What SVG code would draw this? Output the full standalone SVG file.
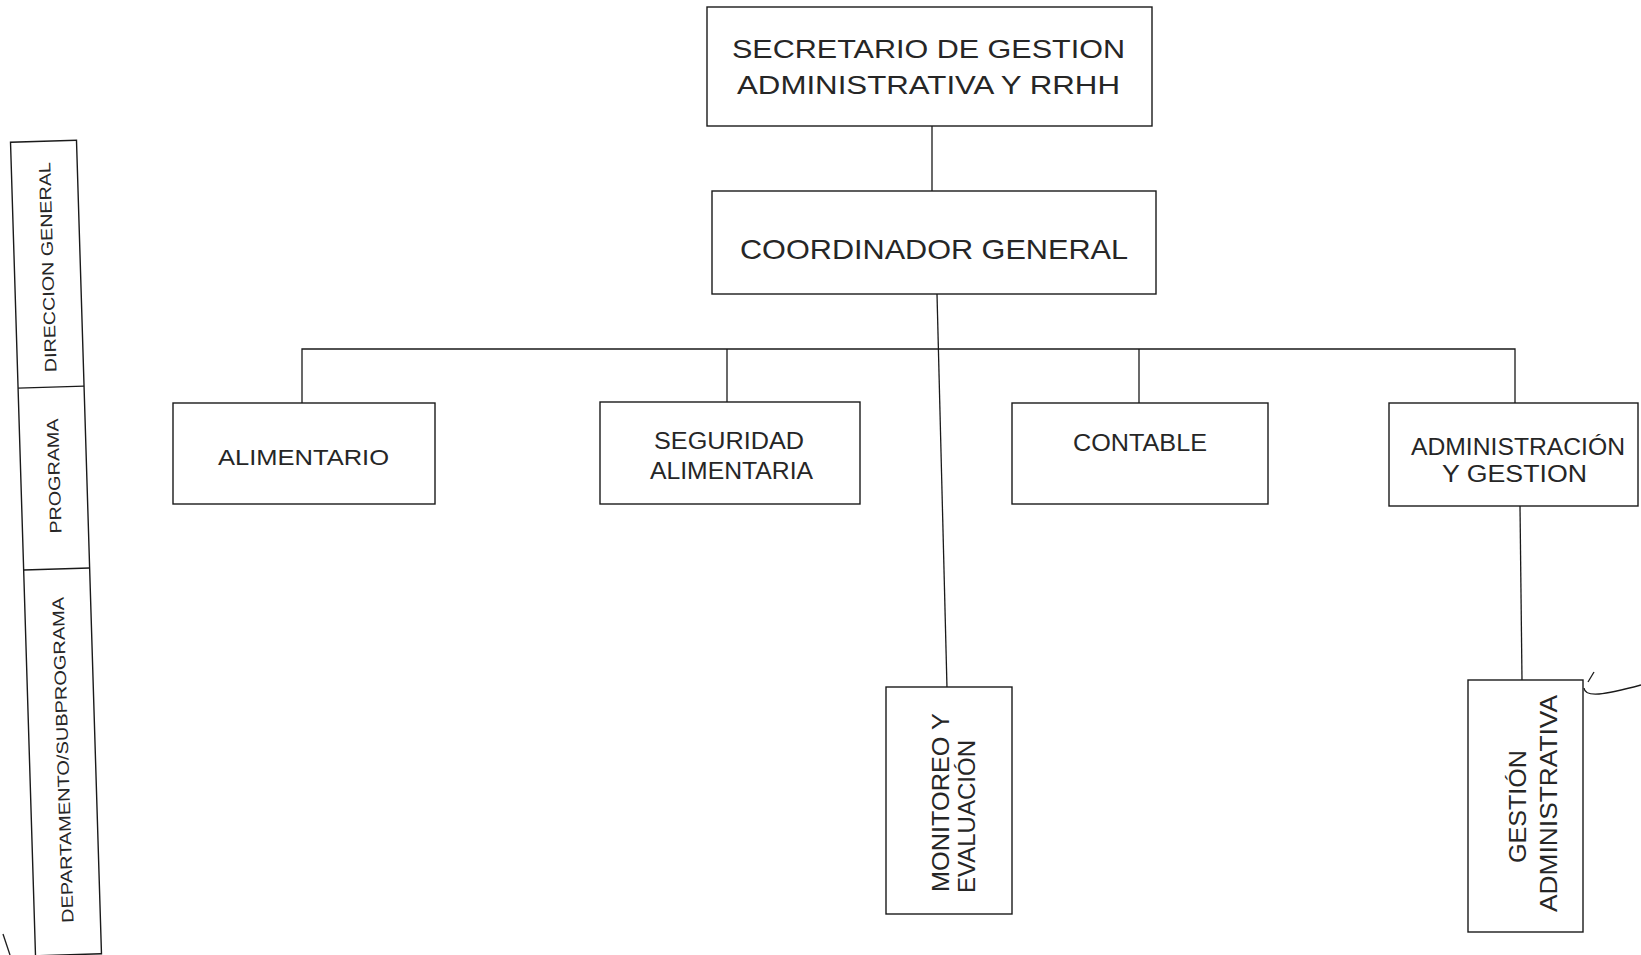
<svg xmlns="http://www.w3.org/2000/svg" width="1641" height="955" viewBox="0 0 1641 955">
<style>
.box{fill:#fff;stroke:#1a1a1a;stroke-width:1.4}
.ln{fill:none;stroke:#1a1a1a;stroke-width:1.3}
text{font-family:"Liberation Sans",Arial,sans-serif;fill:#262626}
</style>
<rect width="1641" height="955" fill="#fff"/>
<g id="connectors">
<line class="ln" x1="932" y1="126" x2="932" y2="191"/>
<line class="ln" x1="937" y1="294" x2="947" y2="688"/>
<polyline class="ln" points="302,403 302,349 1515,349 1515,403"/>
<line class="ln" x1="727" y1="349" x2="727" y2="402"/>
<line class="ln" x1="1139" y1="349" x2="1139" y2="403"/>
<line class="ln" x1="1520" y1="506" x2="1522" y2="680"/>
</g>
<g id="levels" transform="rotate(-1.76 56 548)">
<rect class="box" x="23" y="141" width="66" height="814"/>
<line class="ln" x1="23" y1="387" x2="89" y2="387"/>
<line class="ln" x1="23" y1="569" x2="89" y2="569"/>
<text transform="translate(62 267) rotate(-90)" font-size="16.5" text-anchor="middle" textLength="210" lengthAdjust="spacingAndGlyphs">DIRECCION GENERAL</text>
<text transform="translate(62 476) rotate(-90)" font-size="16.5" text-anchor="middle" textLength="115" lengthAdjust="spacingAndGlyphs">PROGRAMA</text>
<text transform="translate(62 760) rotate(-90)" font-size="16.5" text-anchor="middle" textLength="326" lengthAdjust="spacingAndGlyphs">DEPARTAMENTO/SUBPROGRAMA</text>
</g>
<g id="secretario">
<rect class="box" x="707" y="7" width="445" height="119"/>
<text x="732" y="58" font-size="25.5" textLength="393" lengthAdjust="spacingAndGlyphs">SECRETARIO DE GESTION</text>
<text x="737" y="94" font-size="25.5" textLength="383" lengthAdjust="spacingAndGlyphs">ADMINISTRATIVA Y RRHH</text>
</g>
<g id="coordinador">
<rect class="box" x="712" y="191" width="444" height="103"/>
<text x="740" y="259" font-size="28" textLength="388" lengthAdjust="spacingAndGlyphs">COORDINADOR GENERAL</text>
</g>
<g id="alimentario">
<rect class="box" x="173" y="403" width="262" height="101"/>
<text x="218" y="465" font-size="22" textLength="171" lengthAdjust="spacingAndGlyphs">ALIMENTARIO</text>
</g>
<g id="seguridad">
<rect class="box" x="600" y="402" width="260" height="102"/>
<text x="654" y="449" font-size="23" textLength="150" lengthAdjust="spacingAndGlyphs">SEGURIDAD</text>
<text x="650" y="479" font-size="23" textLength="163" lengthAdjust="spacingAndGlyphs">ALIMENTARIA</text>
</g>
<g id="contable">
<rect class="box" x="1012" y="403" width="256" height="101"/>
<text x="1073" y="451" font-size="24" textLength="134" lengthAdjust="spacingAndGlyphs">CONTABLE</text>
</g>
<g id="administracion">
<rect class="box" x="1389" y="403" width="249" height="103"/>
<text x="1411" y="455" font-size="23" textLength="214" lengthAdjust="spacingAndGlyphs">ADMINISTRACIÓN</text>
<text x="1442" y="482" font-size="23" textLength="145" lengthAdjust="spacingAndGlyphs">Y GESTION</text>
</g>
<g id="monitoreo">
<rect class="box" x="886" y="687" width="126" height="227"/>
<text transform="translate(949 892) rotate(-90)" font-size="23" textLength="179" lengthAdjust="spacingAndGlyphs">MONITOREO Y</text>
<text transform="translate(975 893) rotate(-90)" font-size="23" textLength="153" lengthAdjust="spacingAndGlyphs">EVALUACIÓN</text>
</g>
<g id="gestion">
<rect class="box" x="1468" y="680" width="115" height="252"/>
<text transform="translate(1526 863) rotate(-90)" font-size="24" textLength="113" lengthAdjust="spacingAndGlyphs">GESTIÓN</text>
<text transform="translate(1557 912) rotate(-90)" font-size="24" textLength="217" lengthAdjust="spacingAndGlyphs">ADMINISTRATIVA</text>
</g>
<g id="marks">
<path class="ln" d="M1584,688 C1585,698 1604,695 1641,685"/>
<path class="ln" d="M1588,682 L1594,672"/>
<path class="ln" d="M3,934 L10,955"/>
</g>
</svg>
